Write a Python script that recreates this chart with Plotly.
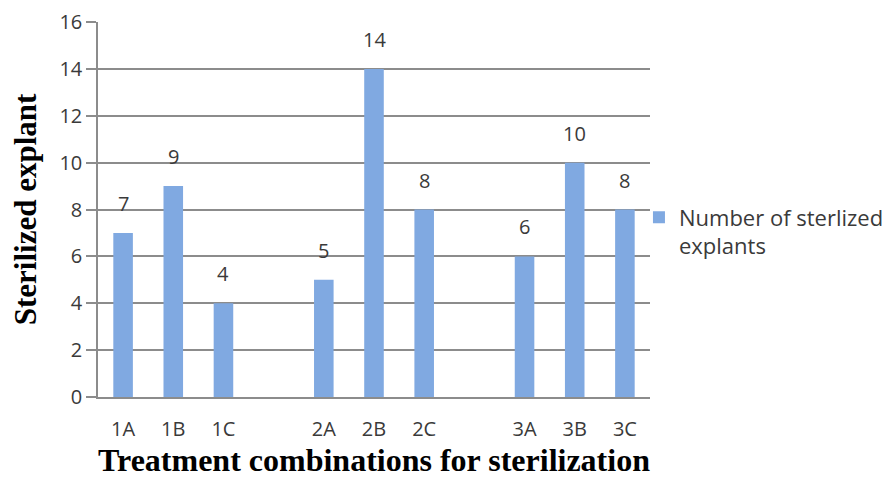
import plotly.graph_objects as go

categories = ["1A", "1B", "1C", " ", "2A", "2B", "2C", "  ", "3A", "3B", "3C"]
values = [7, 9, 4, None, 5, 14, 8, None, 6, 10, 8]
series_name = "Number of sterlized<br>explants"
y_ticks = [0, 2, 4, 6, 8, 10, 12, 14, 16]

bar_color = "#80A9E1"
grid_color = "#8C8C8C"
text_color = "#3A3A3A"
sans = "Open Sans, Liberation Sans, sans-serif"
serif = "Liberation Serif, Times New Roman, serif"
tick_font = dict(family=sans, size=20, color=text_color)

fig = go.Figure()
fig.add_trace(go.Bar(
    x=categories, y=values, name=series_name,
    marker=dict(color=bar_color, line=dict(width=0)),
    width=0.39, showlegend=True,
))

for c, v in zip(categories, values):
    if v is None:
        continue
    fig.add_annotation(x=c, y=v, text=str(v), showarrow=False,
                       yanchor="bottom", yshift=14,
                       font=dict(family=sans, size=20, color=text_color))

fig.update_layout(
    width=893, height=480,
    margin=dict(l=90, r=251, t=14, b=91),
    paper_bgcolor="white", plot_bgcolor="white",
    font=tick_font,
    legend=dict(x=0.98, y=0.535, xanchor="left", yanchor="top", valign="top",
                font=dict(family=sans, size=22, color=text_color),
                itemwidth=30, tracegroupgap=0, bgcolor="rgba(0,0,0,0)"),
    xaxis=dict(
        type="category", categoryorder="array", categoryarray=categories,
        showgrid=False, showline=True, linecolor=grid_color, linewidth=1.5,
        ticks="outside", ticklen=13, tickcolor="rgba(0,0,0,0)", tickfont=tick_font,
        automargin=False,
        title=dict(text="<b>Treatment combinations for sterilization</b>",
                   font=dict(family=serif, size=32, color="black"),
                   standoff=8),
    ),
    yaxis=dict(
        range=[0, 16], tickvals=y_ticks, showgrid=True, gridcolor=grid_color, gridwidth=1.5,
        showline=True, linecolor=grid_color, linewidth=1.5,
        ticks="outside", ticklen=10, tickcolor=grid_color, tickwidth=1.5,
        tickfont=tick_font, zeroline=False, automargin=False,
        title=dict(text="<b>Sterilized explant</b>",
                   font=dict(family=serif, size=31, color="black"),
                   standoff=18),
    ),
)

fig.write_html("out.html")
